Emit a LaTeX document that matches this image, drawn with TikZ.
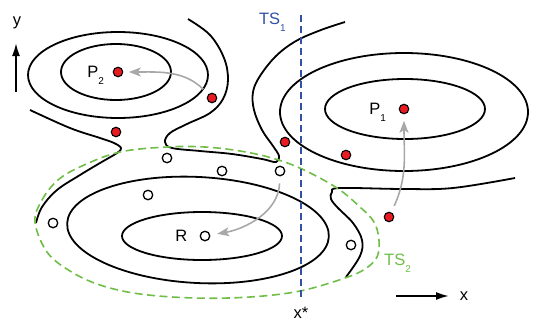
\documentclass[tikz,border=0pt]{standalone}
\usepackage{fontspec}
\setmainfont{Liberation Sans}
\usepackage{tikz}
\usetikzlibrary{arrows.meta, positioning}
\definecolor{dotred}{RGB}{232,26,34}
\definecolor{tsblue}{RGB}{50,80,165}
\definecolor{tsgreen}{RGB}{112,190,72}
\definecolor{pathgray}{RGB}{168,168,168}
\newcommand{\lowidx}[1]{\raisebox{-7pt}{\fontsize{10}{10}\selectfont #1}}

\begin{document}
\begin{tikzpicture}[
    x=1pt, y=-1pt,
    font=\fontsize{16.5}{18}\selectfont,
    contour/.style={line width=1.8pt, black},
    redmin/.style={circle, draw, line width=1.1pt, fill=dotred, minimum size=9.5pt, inner sep=0pt},
    opensample/.style={circle, draw, line width=1.3pt, fill=white, minimum size=9.5pt, inner sep=0pt},
    lbl/.style={inner sep=0pt, text depth=0pt},
    relaxarrow/.style={-{Stealth[length=12pt, width=9pt, inset=3pt]}, line width=1.6pt, pathgray},
    tsone/.style={tsblue, line width=1.6pt, dash pattern=on 7pt off 4pt},
    tstwo/.style={tsgreen, line width=1.6pt, dash pattern=on 8pt off 4.5pt},
    axis/.style={-{Latex[length=13pt, width=8pt]}, line width=1.8pt},
]
\useasboundingbox (0,0) rectangle (533,327);

% Contours
\draw[contour] (116,72) ellipse [x radius=55, y radius=28];
\draw[contour] (118,75) ellipse [x radius=90, y radius=43];
\draw[contour] (405,109) ellipse [x radius=80, y radius=30];
\draw[contour] (404,112) ellipse [x radius=124, y radius=59];
\draw[contour] (202,236) ellipse [x radius=80, y radius=24];
\draw[contour, rotate around={-3:(198,230)}] (198,230) ellipse [x radius=131, y radius=53];
\draw[contour] plot[smooth, tension=0.6] coordinates {(30,110) (70,128) (100,138) (114,143) (121,148) (117,153) (100,163) (80,175) (57,190) (42,207) (36,223)};
\draw[contour] plot[smooth, tension=0.6] coordinates {(188,19) (210,35) (224,58) (228,80) (223,99) (210,113) (187,124) (170,133) (165,142) (172,148) (200,151) (232,154) (262,159) (276,162) (279,156) (273,146) (262,130) (254,110) (253,92) (260,76) (276,56) (296,41) (321,30) (345,22)};
\draw[contour] plot[smooth, tension=0.6] coordinates {(515,178) (453,188) (403,189) (340,188) (332,192) (331,199) (338,208) (353,223) (362,240) (360,256) (346,277)};

% Transition states
\draw[tstwo] plot[smooth cycle, tension=0.6] coordinates {(35,222) (42,200) (58,180) (82,166) (120,152) (167,147) (205,147) (240,151) (272,158) (302,169) (337,188) (360,207) (374,222) (379,240) (377,257) (365,269) (345,278) (300,291) (250,297) (195,298) (140,294) (100,285) (70,271) (47,252)};
\coordinate (ts1top) at (301,15);
\coordinate (ts1bot) at (301,300);
\draw[tsone] (ts1top) -- (ts1bot);

% Nodes
\node[redmin] (p2) at (118,72) {};
\node[redmin] (a1) at (212,98) {};
\node[redmin] (a2) at (116,132) {};
\node[redmin] (a3) at (285,142) {};
\node[redmin] (a4) at (346,155) {};
\node[redmin] (p1) at (404,109) {};
\node[redmin] (a5) at (389,217) {};
\node[opensample] (r) at (205,236) {};
\node[opensample] (b1) at (167,158) {};
\node[opensample] (b2) at (222,171) {};
\node[opensample] (b3) at (280,171) {};
\node[opensample] (b4) at (148,195) {};
\node[opensample] (b5) at (53,223) {};
\node[opensample] (b6) at (351,245) {};

% Arrows
\draw[relaxarrow, shorten <=7pt, shorten >=5.5pt] (a1) to[out=135, in=0] (p2);
\draw[relaxarrow, shorten <=7pt, shorten >=7pt] (b3) to[out=-92, in=10] (r);
\draw[relaxarrow, shorten <=7pt, shorten >=6.5pt] (a5) to[out=65, in=-90] (p1);

% Labels
\node[lbl, left=8.5pt of p2] (p2lab) {P\lowidx{2}};
\node[lbl, left=12.5pt of p1] (p1lab) {P\lowidx{1}};
\node[lbl, left=12pt of r] (rlab) {R};
\node[lbl, tsblue, anchor=east] (ts1lab) at (286,19) {TS\lowidx{1}};
\node[lbl, tsgreen, anchor=west] (ts2lab) at (384,260) {TS\lowidx{2}};
\node[lbl, below=7pt of ts1bot] (xstar) {x*};

% Axes
\coordinate (ytail) at (16,92);
\coordinate (ytip) at (16,43);
\coordinate (xtail) at (396,296);
\coordinate (xtip) at (449,296);
\draw[axis] (ytail) -- (ytip);
\draw[axis] (xtail) -- (xtip);
\node[lbl, anchor=base] (ylab) at (17,25) {y};
\node[lbl, anchor=base] (xlab) at (464,300) {x};

\end{tikzpicture}
\end{document}
